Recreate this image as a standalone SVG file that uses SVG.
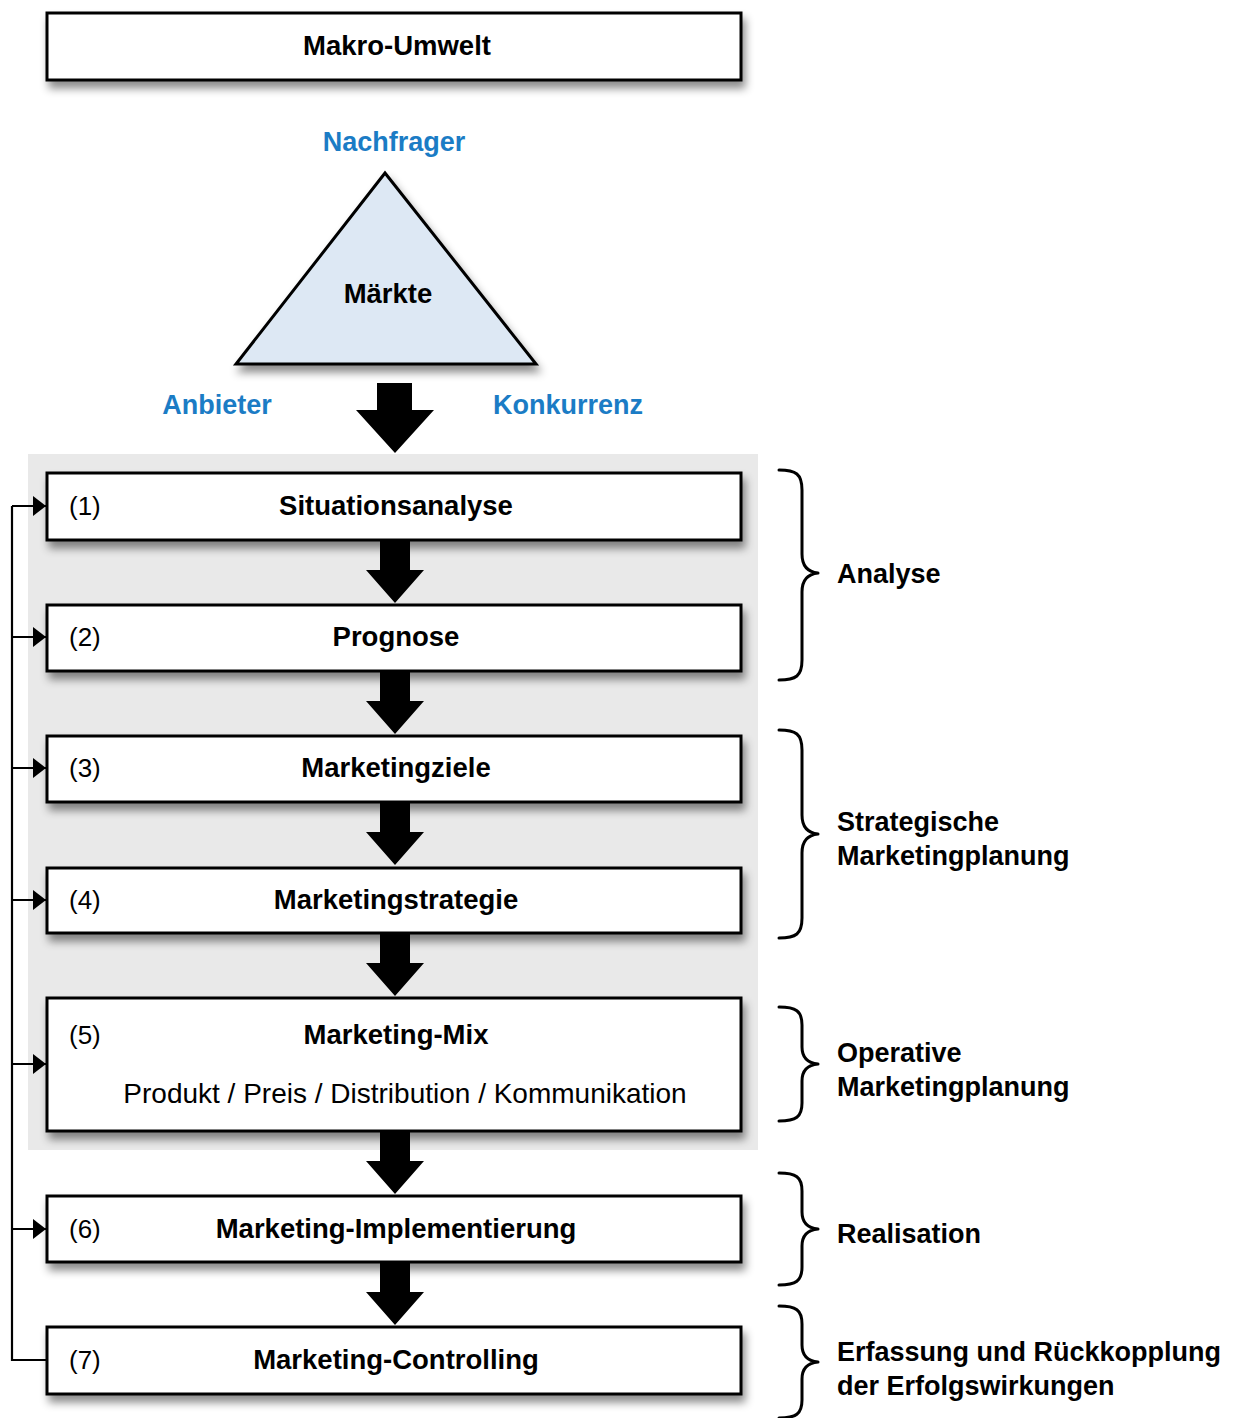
<svg xmlns="http://www.w3.org/2000/svg" width="1236" height="1418" viewBox="0 0 1236 1418">
  <defs>
    <filter id="shadow" x="-5%" y="-20%" width="112%" height="160%">
      <feDropShadow dx="3" dy="7" stdDeviation="4" flood-color="#000" flood-opacity="0.45"/>
    </filter>
    <marker id="tip" markerWidth="14" markerHeight="22" refX="13" refY="11" orient="auto" markerUnits="userSpaceOnUse">
      <polygon points="0,1 13,11 0,21" fill="#000"/>
    </marker>
    <style>
      .box { fill: #fff; stroke: #000; stroke-width: 3; filter: url(#shadow); }
      .title { font-family: "Liberation Sans", Arial, sans-serif; font-weight: bold; font-size: 27.5px; fill: #000; text-anchor: middle; }
      .num { font-family: "Liberation Sans", Arial, sans-serif; font-size: 26px; fill: #000; }
      .sub { font-family: "Liberation Sans", Arial, sans-serif; font-size: 28px; fill: #000; text-anchor: middle; }
      .side { font-family: "Liberation Sans", Arial, sans-serif; font-weight: bold; font-size: 27px; fill: #000; }
      .blue { font-family: "Liberation Sans", Arial, sans-serif; font-weight: bold; font-size: 27px; fill: #1b7cc5; }
      .brace { fill: none; stroke: #000; stroke-width: 3; stroke-linecap: round; stroke-linejoin: round; }
      .fb { fill: none; stroke: #000; stroke-width: 2.2; }
      .big { fill: #000; }
    </style>
  </defs>

  <!-- grey planning area -->
  <rect x="28" y="454" width="730" height="696" fill="#e9e9e9"/>

  <g id="makro-umwelt">
    <rect class="box" x="47" y="13" width="694" height="67"/>
    <text class="title" x="397" y="55" font-size="28.5">Makro-Umwelt</text>
  </g>

  <g id="maerkte">
    <polygon points="385,173 236,364 536,364" fill="#dde8f4" stroke="#000" stroke-width="3" stroke-linejoin="miter" filter="url(#shadow)"/>
    <text class="title" x="388" y="303">Märkte</text>
    <text class="blue" x="394" y="151" text-anchor="middle">Nachfrager</text>
    <text class="blue" x="217" y="414" text-anchor="middle">Anbieter</text>
    <text class="blue" x="568" y="414" text-anchor="middle">Konkurrenz</text>
  </g>

  <g id="step1">
    <rect class="box" x="47" y="473" width="694" height="67"/>
    <text class="num" x="69" y="515">(1)</text>
    <text class="title" x="396" y="515">Situationsanalyse</text>
  </g>
  <g id="step2">
    <rect class="box" x="47" y="605" width="694" height="66"/>
    <text class="num" x="69" y="646">(2)</text>
    <text class="title" x="396" y="646">Prognose</text>
  </g>
  <g id="step3">
    <rect class="box" x="47" y="736" width="694" height="66"/>
    <text class="num" x="69" y="777">(3)</text>
    <text class="title" x="396" y="777">Marketingziele</text>
  </g>
  <g id="step4">
    <rect class="box" x="47" y="868" width="694" height="65"/>
    <text class="num" x="69" y="909">(4)</text>
    <text class="title" x="396" y="909">Marketingstrategie</text>
  </g>
  <g id="step5">
    <rect class="box" x="47" y="998" width="694" height="133"/>
    <text class="num" x="69" y="1044">(5)</text>
    <text class="title" x="396" y="1044">Marketing-Mix</text>
    <text class="sub" x="405" y="1103">Produkt / Preis / Distribution / Kommunikation</text>
  </g>
  <g id="step6">
    <rect class="box" x="47" y="1196" width="694" height="66"/>
    <text class="num" x="69" y="1238">(6)</text>
    <text class="title" x="396" y="1238">Marketing-Implementierung</text>
  </g>
  <g id="step7">
    <rect class="box" x="47" y="1327" width="694" height="67"/>
    <text class="num" x="69" y="1369">(7)</text>
    <text class="title" x="396" y="1369">Marketing-Controlling</text>
  </g>

  <g id="connectors">
    <!-- block arrows down the chain -->
    <polygon class="big" points="377,383 412,383 412,410 434,410 395,453 356,410 377,410"/>
    <polygon class="big" points="380,540 410,540 410,570 424,570 395,603 366,570 380,570"/>
    <polygon class="big" points="380,671 410,671 410,701 424,701 395,734 366,701 380,701"/>
    <polygon class="big" points="380,802 410,802 410,832 424,832 395,865 366,832 380,832"/>
    <polygon class="big" points="380,933 410,933 410,963 424,963 395,996 366,963 380,963"/>
    <polygon class="big" points="380,1131 410,1131 410,1161 424,1161 395,1194 366,1161 380,1161"/>
    <polygon class="big" points="380,1262 410,1262 410,1292 424,1292 395,1325 366,1292 380,1292"/>

    <!-- feedback loop from controlling back to every step -->
    <path class="fb" d="M47,1360 H12 V506"/>
    <line class="fb" x1="12" y1="506" x2="46" y2="506" marker-end="url(#tip)"/>
    <line class="fb" x1="12" y1="637" x2="46" y2="637" marker-end="url(#tip)"/>
    <line class="fb" x1="12" y1="768" x2="46" y2="768" marker-end="url(#tip)"/>
    <line class="fb" x1="12" y1="900" x2="46" y2="900" marker-end="url(#tip)"/>
    <line class="fb" x1="12" y1="1064" x2="46" y2="1064" marker-end="url(#tip)"/>
    <line class="fb" x1="12" y1="1229" x2="46" y2="1229" marker-end="url(#tip)"/>
  </g>

  <g id="phase-analyse">
    <path class="brace" d="M779,470 C796,470 802,474 802,490 L802,554 C802,566 808,572 818,573 C808,574 802,580 802,592 L802,660 C802,676 796,680 779,680"/>
    <text class="side" x="837" y="583">Analyse</text>
  </g>
  <g id="phase-strategisch">
    <path class="brace" d="M779,730 C796,730 802,734 802,750 L802,815 C802,827 808,833 818,834 C808,835 802,841 802,853 L802,918 C802,934 796,938 779,938"/>
    <text class="side" x="837" y="831">Strategische</text>
    <text class="side" x="837" y="865">Marketingplanung</text>
  </g>
  <g id="phase-operativ">
    <path class="brace" d="M779,1007 C796,1007 802,1011 802,1025 L802,1047 C802,1058 808,1063 818,1064 C808,1065 802,1070 802,1081 L802,1103 C802,1117 796,1121 779,1121"/>
    <text class="side" x="837" y="1062">Operative</text>
    <text class="side" x="837" y="1096">Marketingplanung</text>
  </g>
  <g id="phase-realisation">
    <path class="brace" d="M779,1173 C796,1173 802,1177 802,1191 L802,1212 C802,1223 808,1228 818,1229 C808,1230 802,1235 802,1246 L802,1267 C802,1281 796,1285 779,1285"/>
    <text class="side" x="837" y="1243">Realisation</text>
  </g>
  <g id="phase-erfassung">
    <path class="brace" d="M779,1306 C796,1306 802,1310 802,1324 L802,1345 C802,1356 808,1361 818,1362 C808,1363 802,1368 802,1379 L802,1400 C802,1414 796,1418 779,1418"/>
    <text class="side" x="837" y="1361">Erfassung und Rückkopplung</text>
    <text class="side" x="837" y="1395">der Erfolgswirkungen</text>
  </g>
</svg>
